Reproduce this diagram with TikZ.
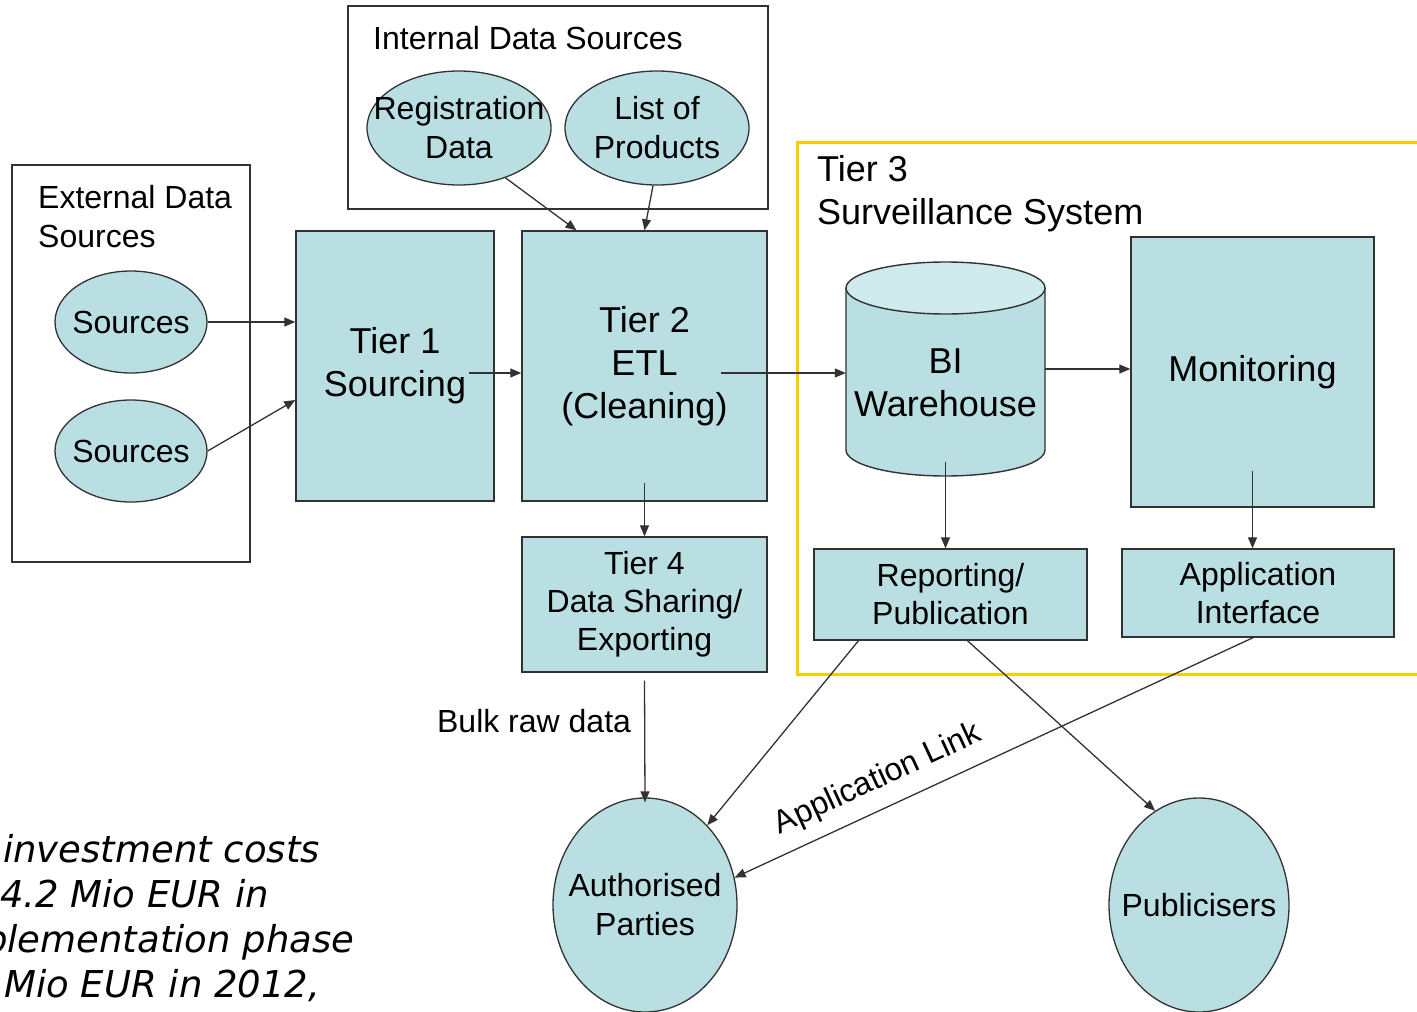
\documentclass[tikz,border=0pt]{standalone}
\usepackage{fontspec}
\setmainfont{Liberation Sans}
\newfontfamily\notefont{DejaVu Sans}
\usetikzlibrary{shapes.geometric, arrows.meta}
\definecolor{tierfill}{RGB}{185,223,226}
\definecolor{tiertop}{RGB}{206,234,236}
\definecolor{framegold}{RGB}{255,204,0}
\definecolor{inkgray}{RGB}{50,50,50}

\tikzset{
  tierbox/.style={draw=inkgray, fill=tierfill, line width=1.4pt, inner sep=0pt, align=center,
    font=\fontsize{36}{43}\selectfont},
  smallbox/.style={tierbox, font=\fontsize{32}{38}\selectfont},
  blobtext/.style={inner sep=0pt, align=center, font=\fontsize{32}{39}\selectfont},
  sourceblob/.style={ellipse, draw=inkgray, fill=tierfill, line width=1.3pt, inner sep=0pt,
    label={[blobtext]center:#1}},
  groupbox/.style={draw=inkgray, line width=1.3pt, inner sep=0pt},
  flow/.style={-{Triangle[length=11pt,width=9pt]}, draw=inkgray, line width=1.3pt},
  titletext/.style={inner sep=0pt, align=left, font=\fontsize{32}{39}\selectfont},
  notetext/.style={inner sep=0pt, anchor=base west, font=\notefont\itshape\fontsize{37}{45}\selectfont}
}

\begin{document}
\begin{tikzpicture}[x=1pt,y=-1pt]
\useasboundingbox (0,0) rectangle (1417,1012);
\clip (0,0) rectangle (1417,1012);

% external sources
\node[groupbox, minimum width=238pt, minimum height=397pt] (ext) at (131,363.5) {};
\node[titletext, anchor=west] (exttitle) at (38,216.5) {External Data\\Sources};
\node[sourceblob={Sources}, minimum width=152pt, minimum height=102pt] (srcA) at (131,322) {};
\node[sourceblob={Sources}, minimum width=152pt, minimum height=102pt] (srcB) at (131,451) {};

% internal sources
\node[groupbox, minimum width=420pt, minimum height=203pt] (intl) at (558,107.5) {};
\node[titletext, anchor=west] (intltitle) at (373,38) {Internal Data Sources};
\node[sourceblob={Registration\\Data}, minimum width=184pt, minimum height=114pt] (reg) at (459,128) {};
\node[sourceblob={List of\\Products}, minimum width=184pt, minimum height=114pt] (prod) at (657,128) {};

% tiers 1, 2 and 4
\node[tierbox, minimum width=198pt, minimum height=270pt] (tierone) at (395,366) {Tier 1\\Sourcing};
\node[tierbox, minimum width=245pt, minimum height=270pt] (tiertwo) at (644.5,366) {Tier 2\\ETL\\(Cleaning)};
\node[smallbox, minimum width=245pt, minimum height=135pt] (tierfour) at (644.5,604.5) {Tier 4\\Data Sharing/\\Exporting};

% tier 3
\draw[framegold, line width=3pt] (1425,142) -- (797,142) -- (797,674) -- (1425,674);
\node[titletext, anchor=west, font=\fontsize{36}{43}\selectfont] (tierthree) at (817,194) {Tier 3\\Surveillance System};
\fill[tierfill] (846,288) -- (846,450) arc[start angle=180, end angle=360, x radius=99.5pt, y radius=26pt] -- (1045,288) -- cycle;
\draw[inkgray, line width=1.4pt] (846,288) -- (846,450) arc[start angle=180, end angle=360, x radius=99.5pt, y radius=26pt] -- (1045,288);
\draw[inkgray, fill=tiertop, line width=1.4pt] (945.5,288) ellipse [x radius=99.5pt, y radius=26pt];
\node[minimum width=199pt, minimum height=214pt, inner sep=0pt] (bi) at (945.5,369) {};
\node[inner sep=0pt, align=center, font=\fontsize{36}{43}\selectfont] (bitext) at (945.5,383) {BI\\Warehouse};
\node[tierbox, minimum width=243pt, minimum height=270pt] (monitor) at (1252.5,372) {Monitoring};
\node[smallbox, minimum width=273pt, minimum height=91pt] (report) at (950.5,594.5) {Reporting/\\Publication};
\node[smallbox, minimum width=272pt, minimum height=88pt] (appif) at (1258,593) {Application\\Interface};

% receivers
\node[sourceblob={Authorised\\Parties}, minimum width=184pt, minimum height=214pt] (authp) at (645,905) {};
\node[sourceblob={Publicisers}, minimum width=180pt, minimum height=214pt] (pubs) at (1199,905) {};

% flows
\draw[flow] (srcA.east) -- (tierone.west |- srcA.east);
\draw[flow] (srcB.east) -- ([yshift=-34pt]tierone.west);
\draw[flow] ([xshift=-26pt,yshift=-7pt]tierone.east) -- ([yshift=-7pt]tiertwo.west);
\draw[flow] (reg.-47) -- ([xshift=-68pt]tiertwo.north);
\draw[flow] ([xshift=-4pt]prod.south) -- (tiertwo.north);
\draw[flow] ([xshift=-47pt,yshift=-7pt]tiertwo.east) -- ([yshift=-4pt]bi.west);
\draw[flow] (bi.east) -- (bi.east -| monitor.west);
\draw[flow] ([yshift=14pt]bi.south) -- (bi.south |- report.north);
\draw[flow] ([yshift=37pt]monitor.south) -- (monitor.south |- appif.north);
\draw[flow] ([yshift=19pt]tiertwo.south) -- (tierfour.north);
\draw[flow] ([yshift=-8pt]tierfour.south) -- ([yshift=-5pt]authp.north)
  node[pos=0.33, left=13pt, inner sep=0pt, font=\fontsize{32}{38}\selectfont] (bulk) {Bulk raw data};
\draw[flow] ([xshift=-92pt]report.south) -- (authp.52);
\draw[flow] ([xshift=17pt]report.south) -- (pubs.115);
\draw[flow] ([xshift=-5pt]appif.south) -- (authp.17)
  node[pos=0.7, sloped, above=13pt, inner sep=0pt, font=\fontsize{32}{38}\selectfont] (applink) {Application Link};

% cost note, cut at the left edge
\node[notetext] (noteA) at (3,862) {investment costs};
\node[notetext] (noteB) at (0,907) {4.2 Mio EUR in};
\node[notetext] (noteC) at (-16,952) {plementation phase};
\node[notetext] (noteD) at (4,997) {Mio EUR in 2012,};
\end{tikzpicture}
\end{document}
